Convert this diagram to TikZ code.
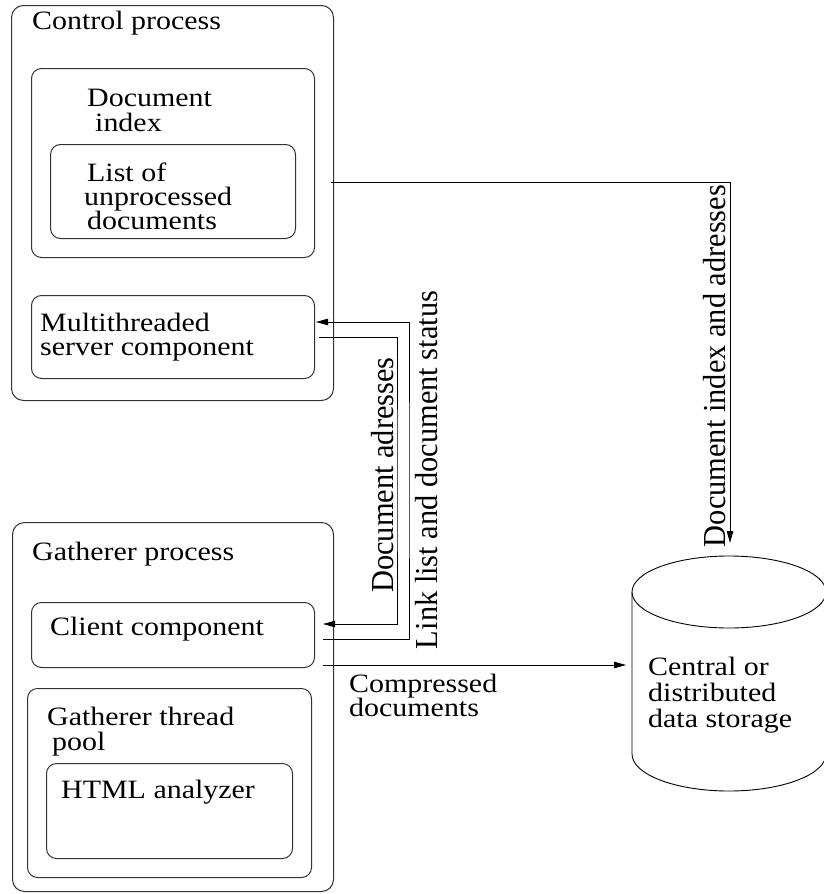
\documentclass[tikz,border=0pt]{standalone}
\usepackage{graphicx}
\usepackage{fontspec}
\setmainfont{Liberation Serif}
\newcommand{\hstr}[1]{\scalebox{1.13}[1]{#1}}
\newcommand{\vstr}[1]{\scalebox{0.95}[1]{#1}}
\usetikzlibrary{arrows.meta}
\begin{document}
\begin{tikzpicture}[x=1pt,y=-1pt,
  box/.style={draw=black!80, line width=1pt, rounded corners=10pt, anchor=north west, inner sep=0pt},
  lbl/.style={inner sep=0pt, anchor=base west, font=\fontsize{26.5}{26.5}\selectfont},
  rlbl/.style={inner sep=0pt, anchor=base, rotate=90, font=\fontsize{32}{32}\selectfont},
  conn/.style={draw=black, line width=0.9pt},
  tip/.style={-{Triangle[length=12pt,width=6.5pt]}},
  cyl/.style={draw=black, line width=0.9pt}
]
\useasboundingbox (0,0) rectangle (824,894);

% boxes
\node[box, rounded corners=12pt, minimum width=322pt, minimum height=395pt] (ctrl) at (11,5) {};
\node[box, minimum width=283pt, minimum height=189pt] (docidx) at (31,68) {};
\node[box, minimum width=245pt, minimum height=94pt] (list) at (50,144) {};
\node[box, minimum width=283pt, minimum height=83pt] (multi) at (31,295) {};
\node[box, rounded corners=12pt, minimum width=321pt, minimum height=369pt] (gath) at (12,522) {};
\node[box, minimum width=283pt, minimum height=65pt] (client) at (31,602) {};
\node[box, minimum width=284pt, minimum height=189pt] (pool) at (27,688) {};
\node[box, minimum width=246pt, minimum height=95pt] (html) at (46,763) {};

% texts
\node[lbl] (t1) at (32,29) {\hstr{Control process}};
\node[lbl] (t2) at (87,106) {\hstr{Document}};
\node[lbl] (t3) at (95,131) {\hstr{index}};
\node[lbl] (t4) at (87,181) {\hstr{List of}};
\node[lbl] (t5) at (84,205) {\hstr{unprocessed}};
\node[lbl] (t6) at (87,229) {\hstr{documents}};
\node[lbl] (t7) at (40,331) {\hstr{Multithreaded}};
\node[lbl] (t8) at (40,355) {\hstr{server component}};
\node[lbl] (t9) at (32,560) {\hstr{Gatherer process}};
\node[lbl] (t10) at (50,635) {\hstr{Client component}};
\node[lbl] (t11) at (47,725) {\hstr{Gatherer thread}};
\node[lbl] (t12) at (52,750) {\hstr{pool}};
\node[lbl] (t13) at (61,798) {\hstr{HTML analyzer}};
\node[lbl] (t14) at (349,692) {\hstr{Compressed}};
\node[lbl] (t15) at (349,716) {\hstr{documents}};
\node[lbl] (t16) at (648,675) {\hstr{Central or}};
\node[lbl] (t17) at (648,701) {\hstr{distributed}};
\node[lbl] (t18) at (648,727) {\hstr{data storage}};

% storage cylinder
\draw[cyl] (729,592) ellipse [x radius=97pt, y radius=36pt];
\draw[cyl] (632,592) -- (632,754) arc[start angle=180, end angle=360, x radius=97pt, y radius=37pt] -- (826,592);
\coordinate (stortop) at (730,556);
\coordinate (storleft) at (632,665);

% connectors
\draw[conn,tip,shorten <=16pt,shorten >=13pt] (docidx.east |- 0,182) -| (stortop);
\draw[conn,tip,shorten <=4pt,shorten >=8pt] (multi.east |- 0,337) -| (397,480) |- (client.east |- 0,624);
\draw[conn,tip,shorten <=8pt,shorten >=1pt] (client.east |- 0,639) -| (409,480) |- (multi.east |- 0,322);
\draw[conn,tip,shorten <=8pt,shorten >=6pt] (client.east |- 0,665) -- (storleft);

% connector labels
\node[rlbl] (l1) at (725,366) {\vstr{Document index and adresses}};
\node[rlbl] (l2) at (393,475) {\vstr{Document adresses}};
\node[rlbl] (l3) at (437,470) {\vstr{Link list and document status}};
\end{tikzpicture}
\end{document}
